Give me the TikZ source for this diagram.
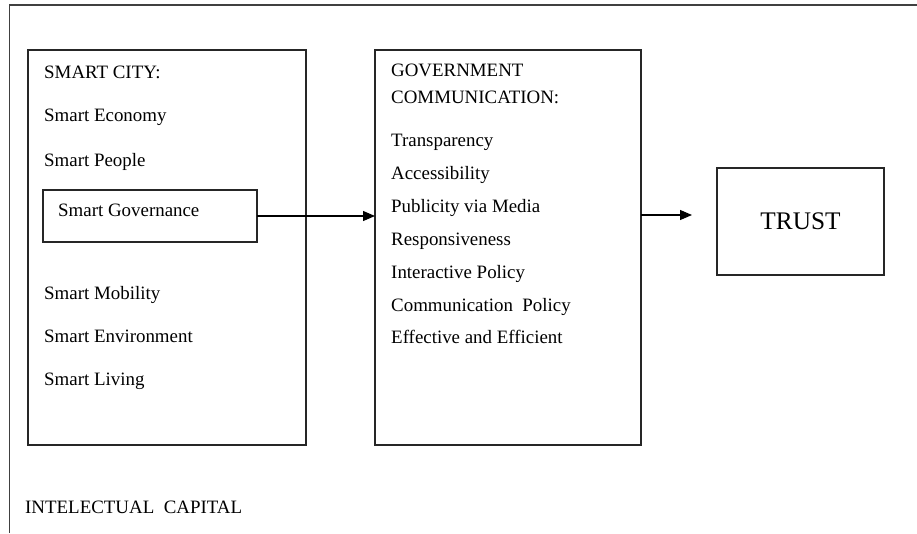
\documentclass[tikz,border=0pt]{standalone}
\usepackage{fontspec}
\setmainfont{Liberation Serif}
\usetikzlibrary{arrows.meta}
\begin{document}
\begin{tikzpicture}[x=1pt,y=-1pt,
  box/.style={draw=black!85,line width=1.1pt,inner sep=0pt,outer sep=0pt},
  lbl/.style={anchor=base west,inner sep=0pt,font=\fontsize{18.9}{22}\selectfont,text=black},
  arr/.style={draw=black,line width=1.1pt,-{Triangle[length=12pt,width=10pt]}}]
\useasboundingbox (0,0) rectangle (917,533);
% outer frame (only top and left visible)
\coordinate (ftl) at (9.5,5);
\coordinate (ftr) at (917,5);
\coordinate (fbl) at (9.5,533);
\draw[black!75,line width=1.1pt] (ftr) -- (ftl) -- (fbl);
% boxes
\node[box,minimum width=278pt,minimum height=395pt] (city) at (167,247.5) {};
\node[box,minimum width=214pt,minimum height=52pt] (sg) at (150,216) {};
\node[box,minimum width=266pt,minimum height=395pt] (gov) at (508,247.5) {};
\node[box,minimum width=167pt,minimum height=107pt,font=\fontsize{25.3}{29}\selectfont] (trust) at (800.5,221.5) {TRUST};
% left texts
\node[lbl] (t1) at (44,78) {SMART CITY:};
\node[lbl] (t2) at (44,121) {Smart Economy};
\node[lbl] (t3) at (44,166) {Smart People};
\node[lbl] (t4) at (58,216) {Smart Governance};
\node[lbl] (t5) at (44,299) {Smart Mobility};
\node[lbl] (t6) at (44,342) {Smart Environment};
\node[lbl] (t7) at (44,385) {Smart Living};
% gov texts
\node[lbl] (g1) at (391,76) {GOVERNMENT};
\node[lbl] (g2) at (391,103) {COMMUNICATION:};
\node[lbl] (g3) at (391,146) {Transparency};
\node[lbl] (g4) at (391,179) {Accessibility};
\node[lbl] (g5) at (391,212) {Publicity via Media};
\node[lbl] (g6) at (391,245) {Responsiveness};
\node[lbl] (g7) at (391,278) {Interactive Policy};
\node[lbl] (g8) at (391,311) {Communication\ \ Policy};
\node[lbl] (g9) at (391,343) {Effective and Efficient};
% bottom label
\node[lbl] (ic) at (25,513) {INTELECTUAL\ \ CAPITAL};
% arrows
\coordinate (a2end) at (692,215);
\draw[arr] (sg.east) -- (sg.east -| gov.west);
\draw[arr] (a2end -| gov.east) -- (a2end);
\end{tikzpicture}
\end{document}
